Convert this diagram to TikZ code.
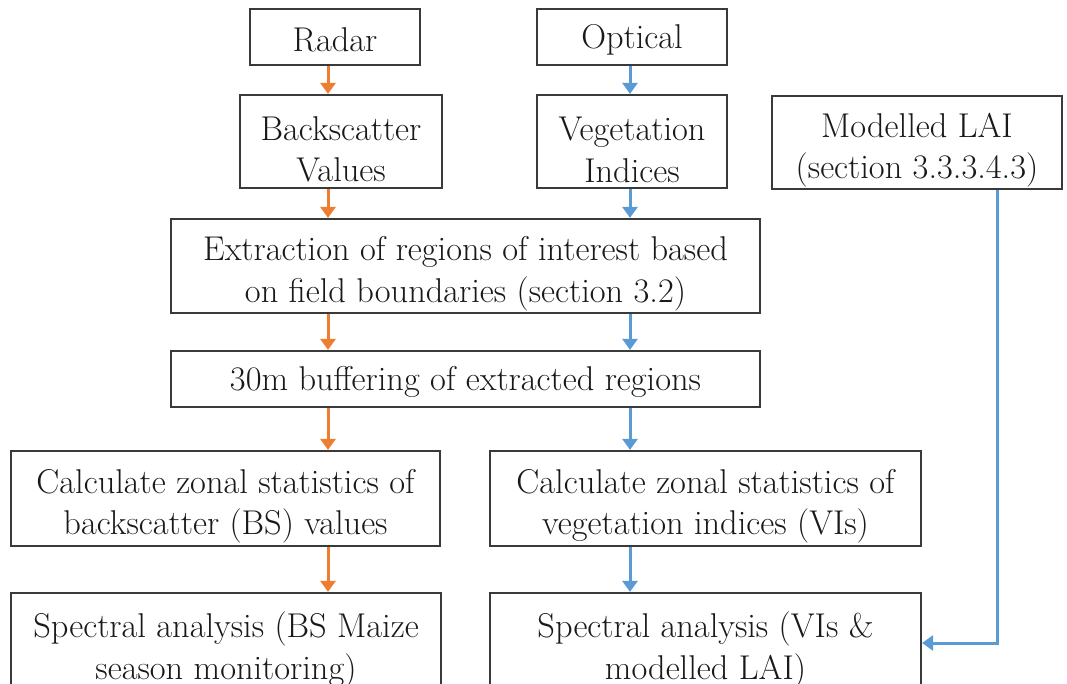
\documentclass[tikz,border=0pt]{standalone}
\usepackage{tikz}
\usetikzlibrary{arrows.meta,positioning,calc}
\definecolor{boxline}{HTML}{3A3A3A}
\definecolor{radarorange}{HTML}{ED7D31}
\definecolor{opticalblue}{HTML}{5B9BD5}
% extra room above the first line, as the text sits low in the boxes
\newcommand{\toproom}{\rule{0pt}{20pt}}

\begin{document}
\begin{tikzpicture}[
    x=0.5pt, y=-0.5pt,
    every node/.style={font=\fontsize{17.2}{20.7}\selectfont, text=black!90},
    box/.style={rectangle, draw=boxline, line width=1.1pt, align=center, inner sep=0pt},
    onebox/.style={box, execute at begin node={\rule{0pt}{14.7pt}}},
    orangearrow/.style={-{Triangle[width=7.5pt,length=5.5pt]}, line width=1.5pt, radarorange},
    bluearrow/.style={-{Triangle[width=7.5pt,length=5.5pt]}, line width=1.5pt, opticalblue}
]
\useasboundingbox (0,0) rectangle (1067,684);

% Sources
\node[onebox, minimum width=85pt, minimum height=28pt] (radar) at (335,37) {Radar};
\node[onebox, minimum width=95pt, minimum height=28pt] (optical) at (632,37) {Optical};

% Raw values
\node[box, minimum width=101pt, minimum height=46.5pt] (backscatter) at (341,141.5) {\toproom Backscatter\\Values};
\node[box, minimum width=95pt, minimum height=46.5pt] (vegetation) at (632,141.5) {\toproom Vegetation\\Indices};
\node[box, minimum width=145pt, minimum height=46.5pt] (lai) at (917,142.5) {\toproom Modelled LAI\\(section 3.3.3.4.3)};

% Shared processing
\node[box, minimum width=294.5pt, minimum height=47pt] (extraction) at (465.5,266) {\toproom Extraction of regions of interest based\\on field boundaries (section 3.2)};
\node[onebox, minimum width=294.5pt, minimum height=28pt] (buffering) at (465.5,379) {30m buffering of extracted regions};

% Zonal statistics
\node[box, minimum width=214.5pt, minimum height=47.5pt] (zonalbs) at (225.5,498.5) {\toproom Calculate zonal statistics of\\backscatter (BS) values};
\node[box, minimum width=215.5pt, minimum height=47.5pt] (zonalvi) at (705.5,498.5) {\toproom Calculate zonal statistics of\\vegetation indices (VIs)};

% Spectral analysis
\node[box, minimum width=215pt, minimum height=50pt] (spectralbs) at (226,643) {\toproom Spectral analysis (BS Maize\\season monitoring)};
\node[box, minimum width=215.5pt, minimum height=50pt] (spectralvi) at (705.5,643) {\toproom Spectral analysis (VIs \&\\modelled LAI)};

% Arrow columns
\coordinate (ocol) at (328,0);
\coordinate (bcol) at (630,0);
\coordinate (lcol) at (997,0);

% Radar chain
\draw[orangearrow] (radar.south -| ocol) -- (backscatter.north -| ocol);
\draw[orangearrow] (backscatter.south -| ocol) -- (extraction.north -| ocol);
\draw[orangearrow] (extraction.south -| ocol) -- (buffering.north -| ocol);
\draw[orangearrow] (buffering.south -| ocol) -- (zonalbs.north -| ocol);
\draw[orangearrow] (zonalbs.south -| ocol) -- (spectralbs.north -| ocol);

% Optical chain
\draw[bluearrow] (optical.south -| bcol) -- (vegetation.north -| bcol);
\draw[bluearrow] (vegetation.south -| bcol) -- (extraction.north -| bcol);
\draw[bluearrow] (extraction.south -| bcol) -- (buffering.north -| bcol);
\draw[bluearrow] (buffering.south -| bcol) -- (zonalvi.north -| bcol);
\draw[bluearrow] (zonalvi.south -| bcol) -- (spectralvi.north -| bcol);

% Modelled LAI feed
\draw[bluearrow] (lai.south -| lcol) |- (spectralvi.east);

\end{tikzpicture}
\end{document}
